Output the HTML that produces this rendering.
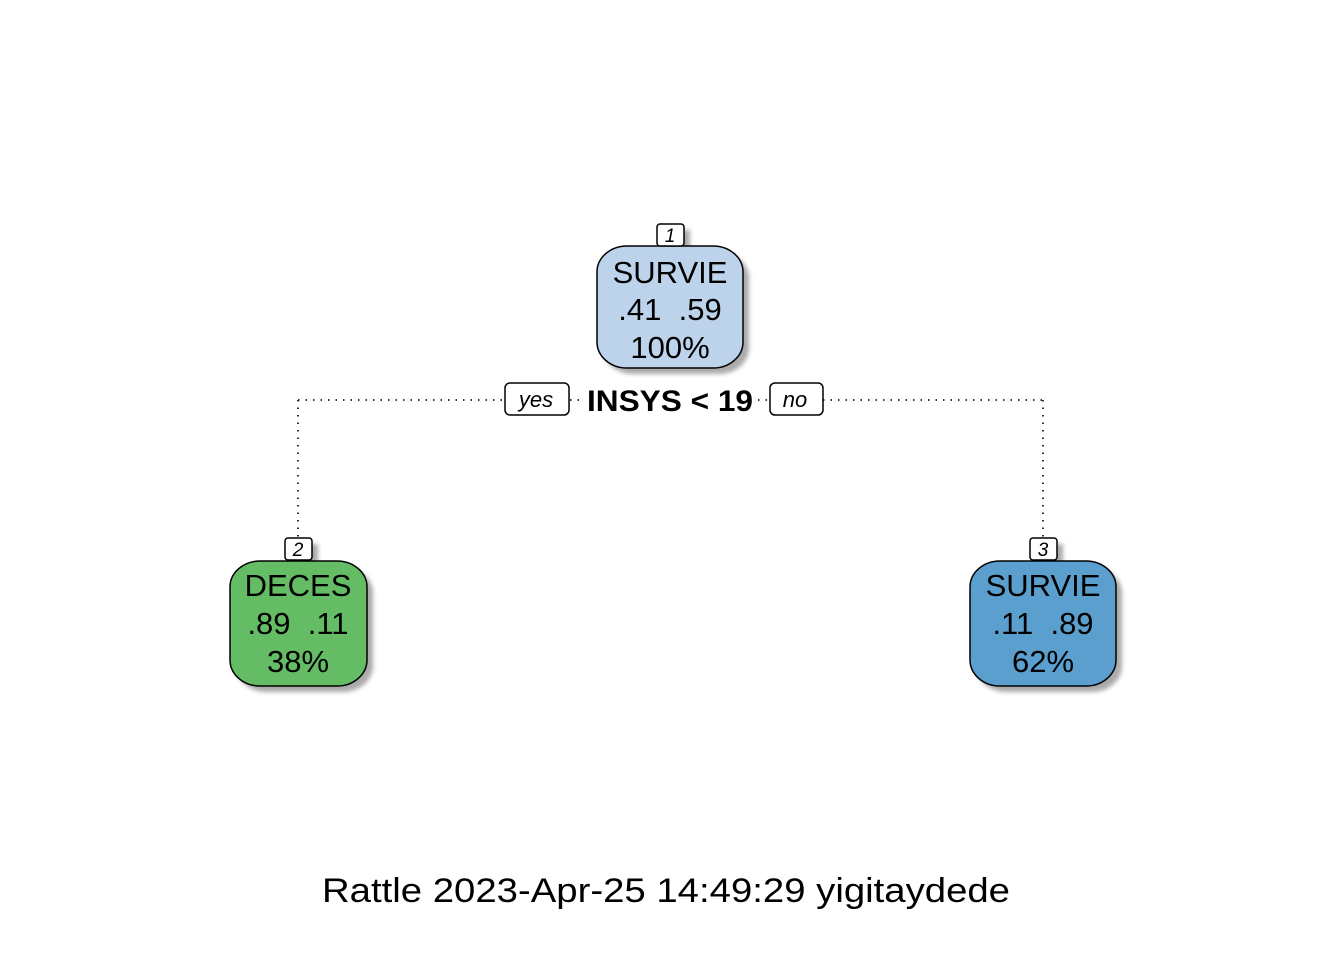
<!DOCTYPE html>
<html><head><style>html,body{margin:0;padding:0;background:#fff}</style></head><body>
<svg width="1344" height="960" xmlns="http://www.w3.org/2000/svg" font-family="Liberation Sans, Arial, sans-serif">
<defs><filter id="b"><feGaussianBlur stdDeviation="2"/></filter></defs>
<g stroke="#333" stroke-width="2" stroke-dasharray="1.5,6" fill="none">
<line x1="298" y1="400" x2="505" y2="400"/>
<line x1="570" y1="400" x2="580" y2="400"/>
<line x1="758" y1="400" x2="770" y2="400"/>
<line x1="823" y1="400" x2="1043" y2="400"/>
<line x1="298" y1="400" x2="298" y2="538"/>
<line x1="1043" y1="400" x2="1043" y2="538"/>
</g>
<g fill="#aaa" filter="url(#b)">
<rect x="603" y="252" width="146" height="122" rx="30" ry="26"/>
<rect x="663" y="230" width="27" height="22"/>
<rect x="236" y="567" width="137" height="125" rx="30" ry="26"/>
<rect x="291" y="544" width="27" height="22"/>
<rect x="976" y="567" width="146" height="125" rx="30" ry="26"/>
<rect x="1036" y="544" width="27" height="22"/>
</g>
<g stroke="#000" stroke-width="1.5">
<rect x="597" y="246" width="146" height="122" rx="30" ry="26" fill="#bdd3ec"/>
<rect x="657" y="224" width="27" height="22" rx="3" fill="#fff"/>
<rect x="230" y="561" width="137" height="125" rx="30" ry="26" fill="#64bc64"/>
<rect x="285" y="538" width="27" height="22" rx="3" fill="#fff"/>
<rect x="970" y="561" width="146" height="125" rx="30" ry="26" fill="#5a9fcd"/>
<rect x="1030" y="538" width="27" height="22" rx="3" fill="#fff"/>
<rect x="505" y="383" width="64" height="32" rx="5" fill="#fff"/>
<rect x="770" y="383" width="53" height="32" rx="5" fill="#fff"/>
</g>
<g text-anchor="middle" fill="#000">
<text x="670" y="242" font-size="19" font-style="italic">1</text>
<text x="298" y="556" font-size="19" font-style="italic">2</text>
<text x="1043" y="556" font-size="19" font-style="italic">3</text>
<text x="536" y="407" font-size="22" font-style="italic">yes</text>
<text x="795" y="407" font-size="22" font-style="italic">no</text>
<text x="670" y="411" font-size="30" font-weight="bold" textLength="166" lengthAdjust="spacingAndGlyphs">INSYS &lt; 19</text>
<g font-size="31">
<text x="670" y="283">SURVIE</text>
<text x="670" y="320" xml:space="preserve">.41  .59</text>
<text x="670" y="358">100%</text>
<text x="298" y="596">DECES</text>
<text x="298" y="634" xml:space="preserve">.89  .11</text>
<text x="298" y="672">38%</text>
<text x="1043" y="596">SURVIE</text>
<text x="1043" y="634" xml:space="preserve">.11  .89</text>
<text x="1043" y="672">62%</text>
</g>
<text x="666" y="902" font-size="34" textLength="688" lengthAdjust="spacingAndGlyphs">Rattle 2023-Apr-25 14:49:29 yigitaydede</text>
</g>
</svg>
</body></html>
